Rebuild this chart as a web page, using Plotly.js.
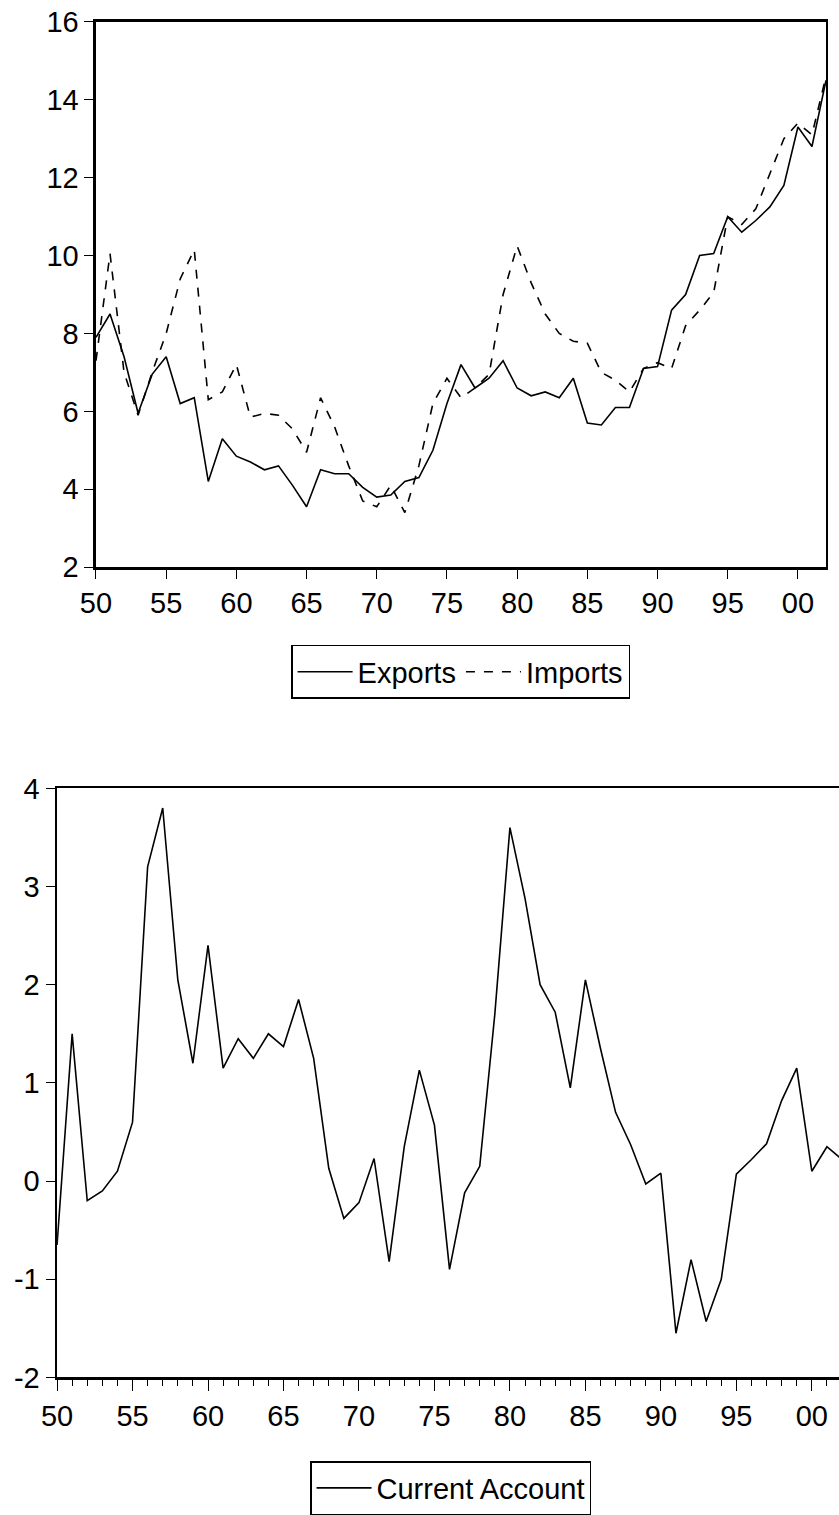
<!DOCTYPE html>
<html>
<head>
<meta charset="utf-8">
<script src="https://cdn.plot.ly/plotly-3.0.1.min.js"></script>
<style>body{margin:0;background:#fff}#chart{width:839px;height:1515px}</style>
</head>
<body>
<div id="chart"></div>
<script>
// years 1950..2002
const years = [];
for (let y = 1950; y <= 2002; y++) years.push(y);

const exportsPct = [7.9, 8.5, 7.4, 5.95, 6.95, 7.4, 6.2, 6.35, 4.2, 5.3,
    4.85, 4.7, 4.5, 4.6, 4.1, 3.55, 4.5, 4.4, 4.4, 4.05,
    3.8, 3.85, 4.2, 4.3, 5.0, 6.2, 7.2, 6.6, 6.85, 7.3,
    6.6, 6.4, 6.5, 6.35, 6.85, 5.7, 5.65, 6.1, 6.1, 7.1,
    7.15, 8.6, 9.0, 10.0, 10.05, 11.0, 10.6, 10.9, 11.25, 11.8,
    13.3, 12.8, 14.5];

const importsPct = [7.3, 10.05, 7.0, 5.9, 7.0, 8.0, 9.4, 10.15, 6.3, 6.5,
    7.2, 5.85, 5.95, 5.9, 5.55, 4.95, 6.35, 5.6, 4.6, 3.7,
    3.55, 4.1, 3.4, 4.6, 6.2, 6.85, 6.35, 6.6, 6.95, 9.0,
    10.25, 9.3, 8.5, 8.0, 7.8, 7.75, 7.0, 6.8, 6.5, 7.1,
    7.25, 7.1, 8.2, 8.6, 9.05, 11.0, 10.8, 11.2, 12.1, 13.0,
    13.4, 13.1, 14.6];

const currentAccount = [-0.65, 1.5, -0.2, -0.1, 0.1, 0.6, 3.2, 3.8, 2.05, 1.2,
    2.4, 1.15, 1.45, 1.25, 1.5, 1.37, 1.85, 1.25, 0.13, -0.38,
    -0.22, 0.23, -0.82, 0.35, 1.13, 0.57, -0.9, -0.12, 0.15, 1.7,
    3.6, 2.88, 2.0, 1.72, 0.95, 2.05, 1.35, 0.7, 0.37, -0.03,
    0.08, -1.55, -0.8, -1.43, -1.0, 0.07, 0.22, 0.38, 0.82, 1.15,
    0.1, 0.35, 0.22];

const xTickVals = [1950, 1955, 1960, 1965, 1970, 1975, 1980, 1985, 1990, 1995, 2000];
const xTickText = ['50', '55', '60', '65', '70', '75', '80', '85', '90', '95', '00'];
const caTickVals = [-2, -1, 0, 1, 2, 3, 4];
const caTickText = ['-2', '-1', '0', '1', '2', '3', '4'];

const line = { color: '#000', width: 1.6 };

const data = [
    { x: years, y: exportsPct, name: 'Exports', type: 'scatter', mode: 'lines',
      line: line, xaxis: 'x', yaxis: 'y', legend: 'legend' },
    { x: years, y: importsPct, name: 'Imports', type: 'scatter', mode: 'lines',
      line: { color: '#000', width: 1.6, dash: 'dash' }, xaxis: 'x', yaxis: 'y', legend: 'legend' },
    { x: years, y: currentAccount, name: 'Current Account', type: 'scatter', mode: 'lines',
      line: line, xaxis: 'x2', yaxis: 'y2', legend: 'legend2' }
];

const axisBase = {
    showgrid: false, zeroline: false, showline: true, mirror: true,
    linecolor: '#000', linewidth: 2.5, ticks: 'outside', ticklen: 9,
    tickcolor: '#000', tickwidth: 1, tickfont: { size: 29, color: '#000' }
};

const legendBase = {
    orientation: 'h', bordercolor: '#000', borderwidth: 1.5, bgcolor: '#fff',
    xanchor: 'center', itemwidth: 55, font: { size: 29, color: '#000' }
};

const layout = {
    width: 839, height: 1515,
    margin: { l: 0, r: 0, t: 0, b: 0 },
    paper_bgcolor: '#fff', plot_bgcolor: '#fff',
    font: { family: 'Liberation Sans Narrow, Liberation Sans, Arial, sans-serif', color: '#000' },
    xaxis: { ...axisBase, domain: [0.1144, 0.9845], anchor: 'y', range: [1950, 2002],
        tickvals: xTickVals, ticktext: xTickText },
    yaxis: { ...axisBase, domain: [0.6244, 0.9855], anchor: 'x', range: [2, 16], dtick: 2 },
    xaxis2: { ...axisBase, domain: [0.068, 1.0], anchor: 'y2', range: [1950, 2001.8],
        tickvals: xTickVals, ticktext: xTickText, ticklen: 11,
        minor: { dtick: 1, tick0: 1950, ticks: 'outside', ticklen: 6, tickcolor: '#000', showgrid: false } },
    yaxis2: { ...axisBase, domain: [0.0878, 0.4779], anchor: 'x2', range: [-2, 4],
        tickvals: caTickVals, ticktext: caTickText },
    legend: { ...legendBase, x: 0.549, y: 0.555, yanchor: 'middle' },
    legend2: { ...legendBase, x: 0.537, y: 0.0323, yanchor: 'top' },
    showlegend: true
};

Plotly.newPlot('chart', data, layout, { staticPlot: true });
</script>
</body>
</html>
